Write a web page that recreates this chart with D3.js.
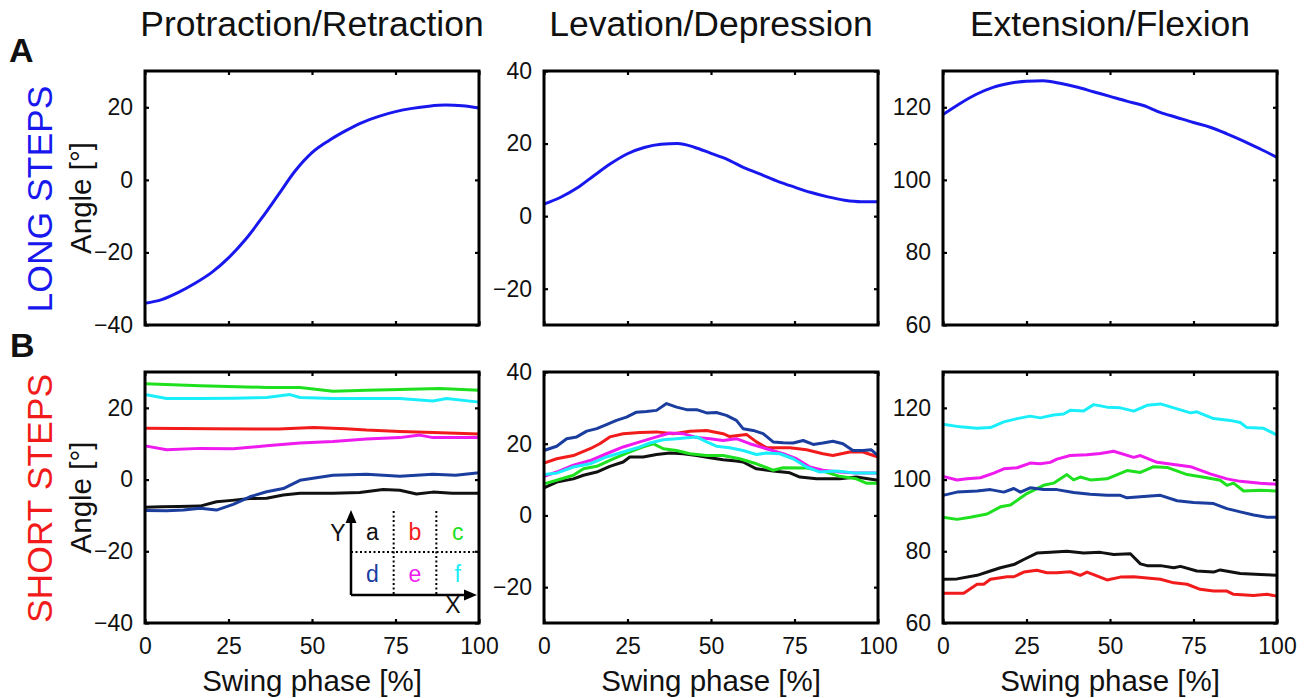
<!DOCTYPE html>
<html>
<head>
<meta charset="utf-8">
<script src="https://cdn.jsdelivr.net/npm/d3@7"></script>
<style>
  body { margin: 0; background: #fff; }
  svg { display: block; }
  text { font-family: "Liberation Sans", Arial, Helvetica, sans-serif; fill: #111; }
</style>
</head>
<body>
<svg id="chart" width="1307" height="698"></svg>
<script>
// ---- Data -------------------------------------------------------------
const jointTitles = ["Protraction/Retraction", "Levation/Depression", "Extension/Flexion"];
const phaseTicks = [0, 25, 50, 75, 100];
const angleDomains = [[-40, 30], [-30, 40], [60, 130]];
const angleTicks = [[-40, -20, 0, 20], [-20, 0, 20, 40], [60, 80, 100, 120]];

// Long steps: mean joint angle sampled every 5 % of swing phase
const longPhase = [0, 5, 10, 15, 20, 25, 30, 35, 40, 45, 50, 55, 60, 65, 70, 75, 80, 85, 90, 95, 100];
const longProtraction = [-34, -33, -31, -28.5, -25.5, -21.5, -16.5, -10.5, -4, 2.5, 7.5, 10.8, 13.5, 15.8, 17.5, 18.8, 19.7, 20.3, 20.6, 20.4, 19.8];
const longLevation = [3.3, 5.2, 7.8, 11.2, 14.5, 17.2, 18.9, 19.8, 20, 19, 17.3, 15.6, 13.3, 11.5, 9.6, 8, 6.5, 5.3, 4.4, 4.0, 4.0];
const longExtension = [118, 121, 123.6, 125.5, 126.6, 127.2, 127.3, 126.6, 125.6, 124.3, 123, 121.7, 120.5, 118.6, 117.2, 115.8, 114.5, 112.7, 110.7, 108.5, 106.2];

// Short steps: one trace per leg position a–f, as [phase %, angle °]
const legLetters = ["a", "b", "c", "d", "e", "f"];
const legColors = ["#111111", "#f21b1b", "#1fe01f", "#1a3d9e", "#ee1aee", "#1aeefa"];

const protShortA = [[0,-7.7],[5,-7.6],[10,-7.5],[16.5,-7.4],[21.4,-6.2],[26,-5.8],[31.4,-5.3],[36.4,-5.2],[41.4,-4.3],[46.4,-3.8],[56.3,-3.8],[64.3,-3.6],[71.3,-2.8],[76.3,-3.0],[81.3,-4.0],[86.2,-3.5],[92,-3.8],[100,-3.8]];
const protShortB = [[0,14.3],[20,14.2],[40,14.1],[50.5,14.5],[60,14.2],[66.3,13.8],[76.3,13.4],[86.2,13.1],[100,12.7]];
const protShortC = [[0,26.7],[16.5,26.2],[36.4,25.7],[46.4,25.7],[56.3,24.6],[66.3,24.9],[76.3,25.1],[88.2,25.4],[100,24.9]];
const protShortD = [[0,-8.6],[6.5,-8.7],[11.5,-8.5],[16.5,-8.0],[21.4,-8.5],[26.4,-6.9],[31.4,-4.8],[36.4,-3.4],[41.4,-2.5],[46.4,-0.2],[51.3,0.5],[56.3,1.2],[66.3,1.5],[76.3,0.9],[86.2,1.5],[93,1.2],[100,1.9]];
const protShortE = [[0,9.4],[6.5,8.3],[16.5,8.7],[26.4,8.6],[36.4,9.4],[46.4,10.2],[56.3,10.6],[66.3,11.3],[76.3,11.7],[82.3,12.4],[86.2,11.7],[100,11.7]];
const protShortF = [[0,23.7],[6.5,22.6],[16.5,22.6],[26.4,22.7],[36.4,22.9],[43.4,23.7],[46.4,22.9],[56.3,22.6],[66.3,22.6],[76.3,22.6],[86.2,21.9],[90.3,22.6],[100,21.6]];

const levShortA = [[0,7.7],[3.8,9.3],[8.8,10.2],[11.8,11.2],[15.8,12.1],[19.7,13.7],[23.7,14.9],[25.7,16.3],[29.7,16.3],[33.7,17],[37.7,17.4],[41.7,17.2],[45.7,16.7],[49.7,16.1],[53.6,15.5],[57.6,15.2],[59.6,14.9],[63.6,13],[68.6,12.4],[73.6,11.9],[76.6,10.7],[81.6,10.2],[88.5,10.2],[93.5,10.7],[100,9.8]];
const levShortB = [[0,14.6],[3.8,15.8],[8.8,16.7],[13.8,18.6],[16.7,20],[19.7,21.9],[23.7,22.8],[28.7,23.1],[33.7,23.3],[38.7,22.8],[43.7,23.5],[48.7,23.7],[53.6,22.8],[55.6,22],[60.6,22.6],[63.6,20.5],[66.6,18.9],[73.6,18.9],[78.6,18.3],[83.5,17.2],[86.5,16.7],[91.5,17.7],[95.5,17.7],[100,16.3]];
const levShortC = [[0,8.8],[3.8,9.8],[8.8,11.2],[11.8,13],[15.8,13.7],[20.7,15.8],[25.7,17.7],[29.7,19.1],[32.7,20],[35.7,18.6],[39.7,18.1],[43.7,17.2],[48.7,16.7],[53.6,16.7],[58.6,15.8],[63.6,14.4],[68.6,12.6],[71.6,13.3],[78.6,13.2],[83.5,12.4],[88.5,10.9],[93.5,10.2],[96.5,9],[100,9]];
const levShortD = [[0,18.1],[3.8,19.3],[6.8,21.4],[9.8,21.9],[12.8,23.5],[15.8,24.2],[18.7,25.3],[21.7,26.5],[24.7,27.4],[27.7,28.8],[30.7,29],[33.7,29.3],[36.7,31.2],[39.7,30.2],[42.7,29.5],[45.7,29.5],[48.7,28.6],[51.6,28.7],[54.6,27.9],[57.6,26.5],[59.6,24.2],[62.6,23.7],[65.6,22.8],[68.6,20.5],[71.6,20.3],[74.6,20.2],[77.6,20.9],[80.6,19.8],[83.5,20.2],[86.5,20.7],[89.5,20],[92.5,18.1],[95.5,18.1],[98,18.3],[100,16.7]];
const levShortE = [[0,10.9],[3.8,12.1],[8.8,14],[13.8,15.3],[18.7,17.2],[23.7,19.1],[28.7,20.5],[33.7,21.9],[37.7,23],[41.7,22.8],[45.7,21.7],[49.7,21.4],[53.6,20.9],[57.6,21.4],[61.6,20],[66.6,18.6],[71.6,17.2],[75.6,15.8],[79.6,13.5],[83.5,12.6],[88.5,12.1],[93.5,11.8],[100,11.8]];
const levShortF = [[0,11.4],[3.8,11.8],[8.8,13.5],[13.8,14.4],[18.7,16.3],[23.7,17.7],[28.7,19.1],[31.7,20.2],[35.7,21.1],[39.7,21.4],[43.7,21.7],[45.7,21.9],[48.7,20.5],[51.6,19.3],[55.6,18.9],[59.6,18.1],[63.6,17],[66.6,17.4],[70.6,17.2],[74.6,15.8],[78.6,13.5],[82.6,12.1],[87.5,12.4],[93.5,11.8],[100,11.8]];

const extShortA = [[0,72.2],[4.2,72.3],[10.2,73.3],[14.2,74.5],[17.2,75.4],[21.2,76.3],[24.2,77.7],[28.1,79.5],[32.1,79.7],[37.1,80],[42.1,79.5],[47.1,79.7],[51.1,79.1],[56.1,79.3],[59.1,76.5],[61.1,76],[65.1,76],[69.1,75.4],[71.1,75.8],[76,74.5],[81,74.2],[83,74.8],[89,73.8],[95,73.5],[100,73.3]];
const extShortB = [[0,68.3],[6.2,68.3],[10.2,70.8],[12.2,70.8],[14.2,72.2],[19.2,72.9],[21.2,72.9],[24.2,74.2],[28.1,74.7],[31.1,74],[34.1,74],[38.1,74.3],[41.1,73.3],[43.1,74.2],[45.1,73.5],[49.1,72],[53.1,72.8],[57.1,72.9],[65.1,72.2],[69.1,71.2],[73.1,70.8],[77,69.4],[81,68.9],[85,68.9],[87,68],[93,67.7],[97,68],[100,67.5]];
const extShortC = [[0,89.5],[4.2,88.9],[8.2,89.5],[13.2,90.4],[17.2,92.4],[20.2,92.9],[25.1,96.1],[30.1,98.4],[33.1,99],[37.1,101.4],[39.1,99.9],[41.1,100.7],[44.1,99.9],[49.1,100.2],[55.1,102.5],[59.1,102],[63.1,103.6],[67.1,103.4],[73.1,101.4],[79,100.5],[83,99.8],[85,98.4],[87,99],[90,96.8],[95,97],[100,96.8]];
const extShortD = [[0,95.6],[4.2,96.5],[10.2,96.8],[14.2,97.2],[18.2,96.5],[21.2,97.5],[23.2,96.5],[26.1,97.7],[30.1,97.2],[34.1,97.2],[39.1,96.4],[44.1,95.9],[49.1,95.6],[53.1,95.6],[55.1,94.9],[59.1,95.2],[65.1,95.6],[70.1,94.1],[75,93.6],[81,93.3],[85,91.9],[89,91],[93,90.1],[97,89.5],[100,89.5]];
const extShortE = [[0,100.9],[4.2,99.9],[7.2,100.2],[11.2,100.5],[15.2,101.8],[18.2,103],[22.2,103.3],[26.1,104.6],[29.1,104.4],[32.1,104.8],[34.1,105.7],[38.1,106.7],[43.1,106.9],[47.1,107.3],[51.1,107.9],[57.1,106.2],[59.1,106.7],[64.1,104.8],[69.1,104.2],[74.1,103.6],[80,101.6],[85,100.2],[89,99.5],[95,99],[100,98.7]];
const extShortF = [[0,115.4],[5.2,114.7],[10.2,114.3],[14.2,114.5],[18.2,116.1],[22.2,117],[26.1,117.7],[29.1,117.2],[33.1,118],[36.1,118.3],[38.1,119.3],[42.1,119.1],[45.1,120.9],[49.1,120.2],[53.1,120],[57.1,119.1],[61.1,120.7],[65.1,121.1],[69.1,120],[74.1,118.6],[76,118.9],[81,117],[86,116.5],[89,115.9],[91,114.5],[96,114.3],[100,112.4]];

// ---- Layout -----------------------------------------------------------
const svg = d3.select("#chart");
const colX = [145, 544, 943];
const rowY = [71, 372];
const rowH = [254, 251];
const panelW = 334;
const longColor = "#1818ee";
const shortColor = "#f21b1b";

const longSeries = [longProtraction, longLevation, longExtension];
const shortSeries = [
  [protShortA, protShortB, protShortC, protShortD, protShortE, protShortF],
  [levShortA, levShortB, levShortC, levShortD, levShortE, levShortF],
  [extShortA, extShortB, extShortC, extShortD, extShortE, extShortF]
];

function drawPanel(row, col) {
  const W = panelW, H = rowH[row];
  const g = svg.append("g").attr("transform", `translate(${colX[col]},${rowY[row]})`);
  const x = d3.scaleLinear().domain([0, 100]).range([0, W]);
  const y = d3.scaleLinear().domain(angleDomains[col]).range([H, 0]);

  const styleAxis = sel => {
    sel.select(".domain").remove();
    sel.selectAll(".tick line").attr("stroke", "#000").attr("stroke-width", 2.2);
    sel.selectAll(".tick text").style("font-size", "23px").attr("fill", "#111");
  };

  g.append("g").call(d3.axisLeft(y).tickValues(angleTicks[col]).tickSize(-4).tickPadding(12)).call(styleAxis);
  g.append("g").attr("transform", `translate(${W},0)`)
    .call(d3.axisRight(y).tickValues(angleTicks[col]).tickSize(-4).tickFormat("")).call(styleAxis);
  g.append("g")
    .call(d3.axisTop(x).tickValues(phaseTicks).tickSize(-4).tickFormat("")).call(styleAxis);
  const bottom = d3.axisBottom(x).tickValues(phaseTicks).tickSize(-4).tickPadding(15);
  if (row === 0) bottom.tickFormat("");
  g.append("g").attr("transform", `translate(0,${H})`).call(bottom).call(styleAxis);

  if (row === 0) {
    const line = d3.line().x((d, i) => x(longPhase[i])).y(d => y(d)).curve(d3.curveMonotoneX);
    g.append("path").datum(longSeries[col])
      .attr("d", line).attr("fill", "none").attr("stroke", longColor)
      .attr("stroke-width", 3).attr("stroke-linejoin", "round");
  } else {
    const line = d3.line().x(d => x(d[0])).y(d => y(d[1]));
    g.selectAll("path.leg").data(shortSeries[col]).join("path")
      .attr("class", "leg")
      .attr("d", line).attr("fill", "none")
      .attr("stroke", (d, i) => legColors[i])
      .attr("stroke-width", 3).attr("stroke-linejoin", "round");
  }

  g.append("rect").attr("width", W).attr("height", H)
    .attr("fill", "none").attr("stroke", "#000").attr("stroke-width", 3);

  if (row === 1) {
    g.append("text").attr("x", W / 2).attr("y", 691 - rowY[1])
      .attr("text-anchor", "middle").style("font-size", "29.5px").text("Swing phase [%]");
  }
  return g;
}

const panels = [];
for (let r = 0; r < 2; r++) for (let c = 0; c < 3; c++) panels.push(drawPanel(r, c));

// Column titles
jointTitles.forEach((t, i) => {
  svg.append("text").attr("x", colX[i] + panelW / 2).attr("y", 36)
    .attr("text-anchor", "middle").style("font-size", "35.5px").text(t);
});

// Row letters and row names
svg.append("text").attr("x", 9).attr("y", 62).style("font-size", "34px").style("font-weight", "bold").text("A");
svg.append("text").attr("x", 10).attr("y", 357).style("font-size", "34px").style("font-weight", "bold").text("B");

[["LONG STEPS", longColor], ["SHORT STEPS", shortColor]].forEach(([label, color], r) => {
  const cy = rowY[r] + rowH[r] / 2;
  svg.append("text").attr("transform", `translate(52,${cy + 1}) rotate(-90)`)
    .attr("text-anchor", "middle").style("font-size", "35.5px").style("fill", color).text(label);
  svg.append("text").attr("transform", `translate(91,${cy}) rotate(-90)`)
    .attr("text-anchor", "middle").style("font-size", "29.5px").text("Angle [°]");
});

// Leg position key inside the short-step protraction panel
(function drawKey(g) {
  const x0 = 206, x1 = 332, yTop = 138, yBase = 223, yMid = 180;
  const cellW = (panelW - x0) / 3;
  const key = g.append("g");
  key.append("line").attr("x1", x0).attr("x2", x0).attr("y1", yBase).attr("y2", yTop + 10)
    .attr("stroke", "#000").attr("stroke-width", 2.5);
  key.append("line").attr("x1", x0).attr("x2", x1 - 10).attr("y1", yBase).attr("y2", yBase)
    .attr("stroke", "#000").attr("stroke-width", 2.5);
  key.append("path").attr("d", `M${x0},${yTop} L${x0 - 5.5},${yTop + 13} L${x0 + 5.5},${yTop + 13} Z`).attr("fill", "#000");
  key.append("path").attr("d", `M${x1},${yBase} L${x1 - 13},${yBase - 5.5} L${x1 - 13},${yBase + 5.5} Z`).attr("fill", "#000");
  key.append("line").attr("x1", x0).attr("x2", panelW).attr("y1", yMid).attr("y2", yMid)
    .attr("stroke", "#000").attr("stroke-width", 2).attr("stroke-dasharray", "2,2.5");
  [1, 2].forEach(k => {
    key.append("line").attr("x1", x0 + k * cellW).attr("x2", x0 + k * cellW).attr("y1", yTop + 1).attr("y2", yBase)
      .attr("stroke", "#000").attr("stroke-width", 2).attr("stroke-dasharray", "2,2.5");
  });
  legLetters.forEach((l, i) => {
    const cx = x0 + cellW * (i % 3 + 0.5);
    const cy = i < 3 ? 168 : 210;
    key.append("text").attr("x", cx).attr("y", cy).attr("text-anchor", "middle")
      .style("font-size", "23px").style("fill", legColors[i]).text(l);
  });
  key.append("text").attr("x", 193).attr("y", 169).attr("text-anchor", "middle").style("font-size", "23px").text("Y");
  key.append("text").attr("x", 308).attr("y", 241).attr("text-anchor", "middle").style("font-size", "23px").text("X");
})(panels[3]);
</script>
</body>
</html>
